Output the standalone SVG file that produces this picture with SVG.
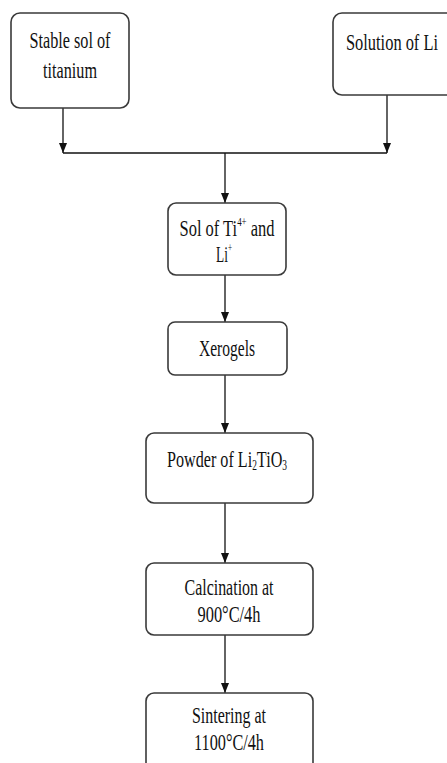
<svg xmlns="http://www.w3.org/2000/svg" width="447" height="763" viewBox="0 0 447 763">
<style>
.box{fill:#fff;stroke:#3a3a3a;stroke-width:1.6}
.t{font-family:"Liberation Serif","Times New Roman",serif;font-size:24px;fill:#111;text-anchor:middle}
.c{fill:none;stroke:#111;stroke-width:1.3}
</style>
<defs>
<marker id="ah" markerWidth="10" markerHeight="8" refX="10" refY="4" orient="auto" markerUnits="userSpaceOnUse" viewBox="0 0 10 8">
<path d="M0,0 L10,4 L0,8 Z" fill="#111"/>
</marker>
</defs>
<g id="connectors">
<path class="c" d="M63,108 V153" marker-end="url(#ah)"/>
<path class="c" d="M387,95 V153" marker-end="url(#ah)"/>
<path class="c" d="M63,153 H387"/>
<path class="c" d="M225,153 V203" marker-end="url(#ah)"/>
<path class="c" d="M225,275 V322" marker-end="url(#ah)"/>
<path class="c" d="M225,375 V433" marker-end="url(#ah)"/>
<path class="c" d="M225,503 V563" marker-end="url(#ah)"/>
<path class="c" d="M225,635 V693" marker-end="url(#ah)"/>
</g>
<g id="n1">
<rect class="box" x="11" y="13" width="118" height="95" rx="9"/>
<text class="t" x="70" y="48" textLength="81" lengthAdjust="spacingAndGlyphs">Stable sol of</text>
<text class="t" x="70" y="78" textLength="54" lengthAdjust="spacingAndGlyphs">titanium</text>
</g>
<g id="n2">
<rect class="box" x="333" y="13" width="130" height="82" rx="9"/>
<text class="t" x="392" y="50" textLength="92" lengthAdjust="spacingAndGlyphs">Solution of Li</text>
</g>
<g id="n3">
<rect class="box" x="168" y="203" width="118" height="72" rx="8"/>
<text class="t" x="227" y="236" textLength="95" lengthAdjust="spacingAndGlyphs">Sol of Ti<tspan font-size="13" dy="-10">4+</tspan><tspan dy="10"> and</tspan></text>
<text class="t" x="224" y="262" textLength="16" lengthAdjust="spacingAndGlyphs">Li<tspan font-size="13" dy="-10">+</tspan></text>
</g>
<g id="n4">
<rect class="box" x="168" y="322" width="119" height="53" rx="7"/>
<text class="t" x="227" y="356" textLength="56" lengthAdjust="spacingAndGlyphs">Xerogels</text>
</g>
<g id="n5">
<rect class="box" x="146" y="433" width="167" height="70" rx="8"/>
<text class="t" x="227" y="467" textLength="120" lengthAdjust="spacingAndGlyphs">Powder of Li<tspan font-size="14" dy="3">2</tspan><tspan dy="-3">TiO</tspan><tspan font-size="14" dy="3">3</tspan></text>
</g>
<g id="n6">
<rect class="box" x="146" y="563" width="167" height="72" rx="8"/>
<text class="t" x="229" y="595" textLength="89" lengthAdjust="spacingAndGlyphs">Calcination at</text>
<text class="t" x="229" y="622" textLength="63" lengthAdjust="spacingAndGlyphs">900°C/4h</text>
</g>
<g id="n7">
<rect class="box" x="146" y="693" width="167" height="80" rx="8"/>
<text class="t" x="229" y="723" textLength="74" lengthAdjust="spacingAndGlyphs">Sintering at</text>
<text class="t" x="229" y="750" textLength="70" lengthAdjust="spacingAndGlyphs">1100°C/4h</text>
</g>
</svg>
